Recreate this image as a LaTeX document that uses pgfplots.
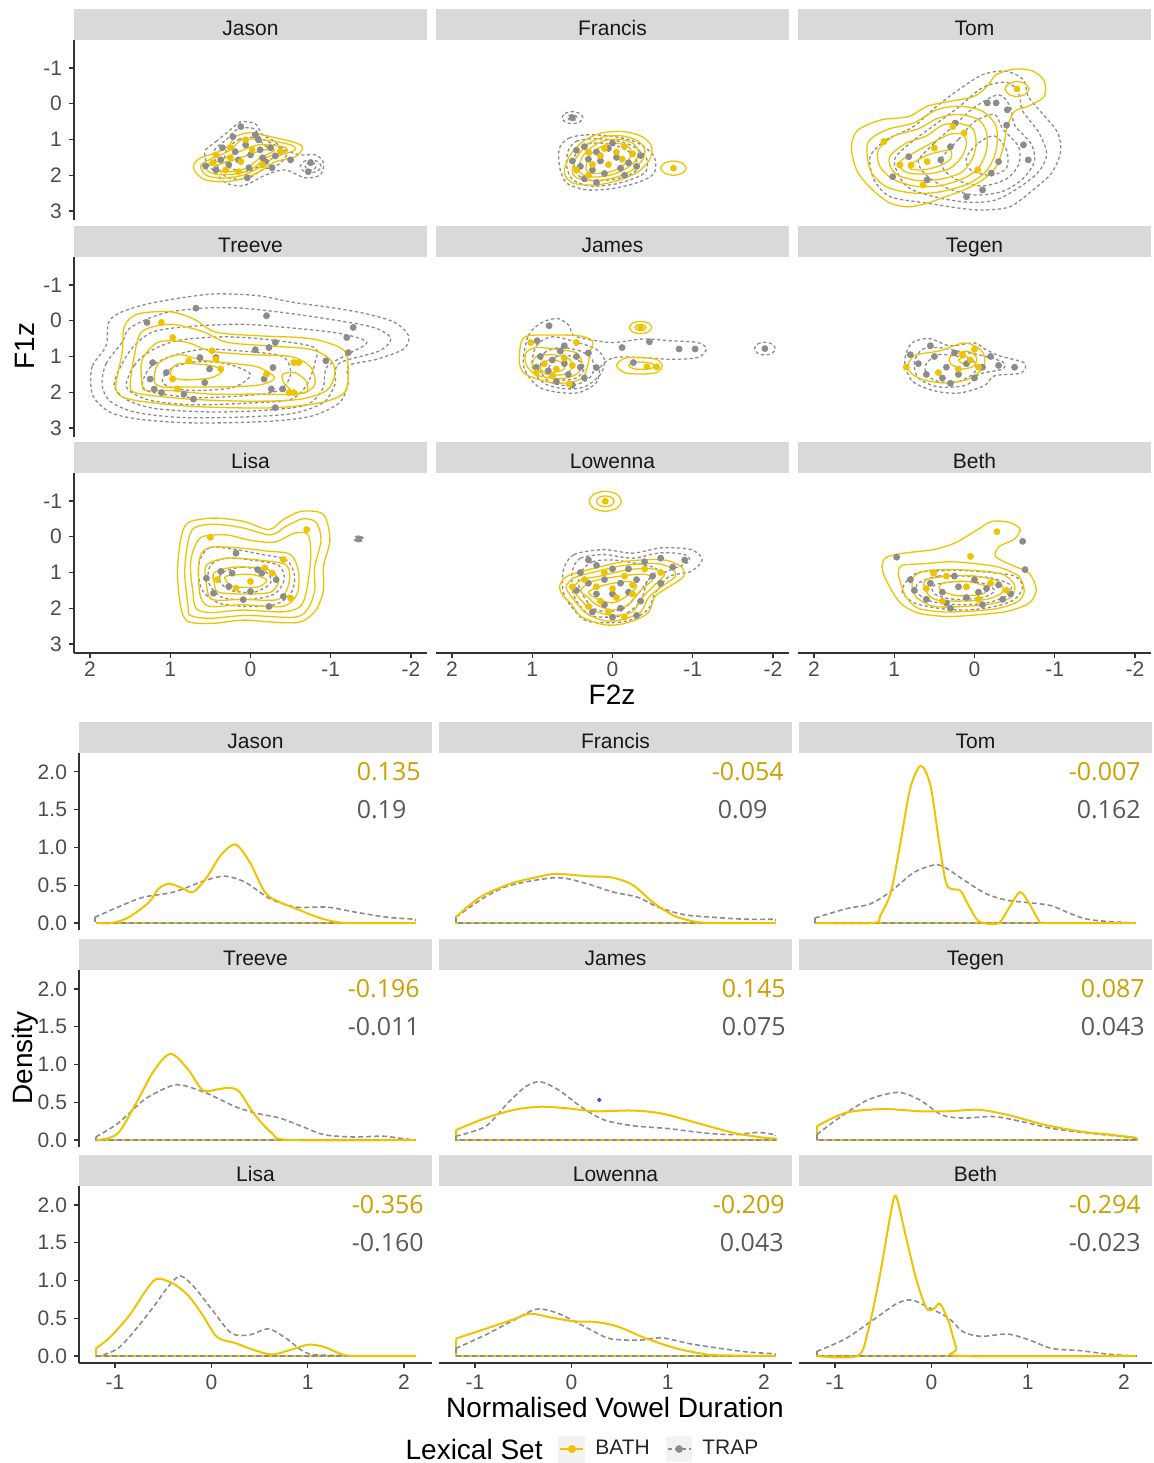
\documentclass[border=0pt]{standalone}
\usepackage{fontspec}
\setmainfont{Liberation Sans}
\newfontfamily\annfont{Open Sans}
\usepackage{pgfplots}
\pgfplotsset{compat=1.18}
\definecolor{bath}{RGB}{238,196,0}
\definecolor{trap}{RGB}{140,140,140}
\definecolor{goldtxt}{RGB}{204,160,0}
\definecolor{graytxt}{RGB}{89,89,89}
\definecolor{strip}{RGB}{217,217,217}
\definecolor{ticklab}{RGB}{77,77,77}
\definecolor{keybg}{RGB}{242,242,242}
\newcommand{\annfs}{\annfont\fontsize{12.5}{14}\selectfont}
\newcommand{\ann}[4]{\node[anchor=west,inner sep=0pt,text=goldtxt,font=\annfs] at (axis cs:#1,2.0) {#2};
 \node[anchor=west,inner sep=0pt,text=graytxt,font=\annfs] at (axis cs:#3,1.5) {#4};}
\pgfplotsset{
 yc/.style={bath, line width=0.65pt, smooth cycle, mark=none},
 gc/.style={trap, line width=0.65pt, dash pattern=on 1.6pt off 1.3pt, smooth cycle, mark=none},
 yp/.style={only marks, mark=*, mark size=1.5pt, draw=bath, fill=bath, mark options={draw=bath, fill=bath}},
 gp/.style={only marks, mark=*, mark size=1.5pt, draw=trap, fill=trap, mark options={draw=trap, fill=trap}},
 yd/.style={bath, line width=1pt, smooth, mark=none},
 gd/.style={trap, line width=0.8pt, dash pattern=on 2.5pt off 1.5pt, smooth, mark=none},
 yb/.style={bath, line width=1pt, sharp plot, mark=none},
 gb/.style={trap, line width=0.8pt, dash pattern=on 2.5pt off 1.5pt, sharp plot, mark=none},
 common/.style={scale only axis, width=176.5pt, tick align=outside, major tick length=2.5pt,
   axis line style={-, black!80, line width=0.6pt}, tick style={black!80, line width=0.6pt},
   tick label style={font=\fontsize{10.5}{12}\selectfont, text=ticklab},
   /pgf/number format/assume math mode=true,
   every axis title/.style={at={(0.5,1)}, anchor=south, fill=strip, minimum width=176.5pt, minimum height=15.5pt, inner sep=0pt, text height=11pt, text depth=0pt, font=\fontsize{10.5}{12}\selectfont, text=black!90}},
 topax/.style={common, height=90pt, x dir=reverse, y dir=reverse, xmin=-2.2, xmax=2.2, ymin=-1.78, ymax=3.25, xtick={-2,-1,0,1,2}, ytick={-1,0,1,2,3}, xticklabel style={yshift=1.5pt}},
 botax/.style={common, height=88.5pt, xmin=-1.374, xmax=2.29, ymin=-0.093, ymax=2.25, xtick={-1,0,1,2}, ytick={0,0.5,1,1.5,2},
   yticklabel style={/pgf/number format/.cd, fixed, fixed zerofill, precision=1}},
 lcol/.style={axis y line*=left},
 ncol/.style={hide y axis},
 brow/.style={axis x line*=bottom},
 nrow/.style={hide x axis},
}
\begin{document}
\begin{tikzpicture}
\useasboundingbox (0,0) rectangle (576.5pt,-731.5pt);
% ================= TOP GRID =================
% Jason
\begin{axis}[topax, lcol, nrow, at={(37pt,-20pt)}, anchor=north west, title={Jason}]
\addplot[gc] coordinates {(0.56,1.29) (0.43,1.06) (0.22,0.67) (0.12,0.5) (-0.06,0.56) (-0.15,0.87) (-0.27,1.01) (-0.43,1.29) (-0.62,1.43) (-0.81,1.43) (-0.91,1.65) (-0.87,1.99) (-0.68,2.07) (-0.43,1.85) (-0.19,1.99) (0,2.21) (0.12,2.3) (0.31,2.21) (0.47,1.85) (0.56,1.57)};
\addplot[gc] coordinates {(0.45,1.3) (0.3,1.0) (0.15,0.7) (-0.05,0.7) (-0.12,0.95) (-0.3,1.15) (-0.45,1.4) (-0.35,1.7) (-0.15,1.85) (0.05,2.1) (0.3,2.05) (0.42,1.7)};
\addplot[gc] coordinates {(0.3,1.3) (0.15,1.0) (-0.05,0.95) (-0.2,1.2) (-0.3,1.45) (-0.15,1.7) (0.05,1.9) (0.25,1.8) (0.32,1.55)};
\addplot[gc] coordinates {(-0.62,1.75) (-0.66,1.62) (-0.75,1.57) (-0.84,1.62) (-0.88,1.75) (-0.84,1.88) (-0.75,1.93) (-0.66,1.88)};
\addplot[gc] coordinates {(-0.68,1.75) (-0.7,1.68) (-0.75,1.65) (-0.8,1.68) (-0.82,1.75) (-0.8,1.82) (-0.75,1.85) (-0.7,1.82)};
\addplot[yc] coordinates {(0.71,1.71) (0.62,1.51) (0.43,1.37) (0.27,1.18) (0.19,0.92) (0,0.81) (-0.25,0.92) (-0.56,1.09) (-0.65,1.23) (-0.56,1.48) (-0.31,1.62) (-0.15,1.85) (0.06,2.07) (0.31,2.18) (0.56,2.13) (0.68,1.93)};
\addplot[yc] coordinates {(0.62,1.72) (0.45,1.5) (0.25,1.3) (0.1,1.0) (-0.2,1.02) (-0.5,1.15) (-0.55,1.3) (-0.3,1.5) (-0.1,1.8) (0.1,2.0) (0.35,2.08) (0.55,2.0)};
\addplot[yc] coordinates {(0.55,1.75) (0.35,1.55) (0.15,1.35) (-0.1,1.15) (-0.4,1.2) (-0.45,1.32) (-0.2,1.5) (-0.05,1.78) (0.15,1.95) (0.4,1.98) (0.52,1.9)};
\addplot[yc] coordinates {(0.45,1.75) (0.25,1.6) (0.05,1.45) (-0.15,1.3) (-0.3,1.3) (-0.1,1.55) (0.05,1.8) (0.25,1.9) (0.42,1.88)};
\addplot[gp] coordinates {(0.12,0.64) (-0.06,0.87) (0.22,0.92) (0.35,1.23) (0.06,1.15) (-0.12,1.29) (0,1.43) (0.15,1.57) (0.27,1.71) (0.43,1.85) (0.56,1.74) (-0.19,1.62) (-0.27,1.79) (0.04,2.07) (-0.1,1.01) (-0.5,1.57) (-0.75,1.65) (-0.72,1.9) (0.19,1.34) (-0.15,1.51) (0.02,1.79) (-0.31,1.46) (0.37,1.57) (-0.25,1.23)};
\addplot[yp] coordinates {(0.25,1.23) (0.12,1.62) (0.31,1.85) (0.47,1.65) (-0.02,1.29) (-0.15,1.71) (0.15,1.9) (0.43,1.43) (0.06,1.01) (-0.37,1.34) (0.25,1.51)};
\end{axis}
% Francis
\begin{axis}[topax, ncol, nrow, at={(218pt,-20pt)}, anchor=north west, title={Francis}]
\addplot[gc] coordinates {(0.66,1.24) (0.54,0.96) (0.31,0.87) (-0.03,0.92) (-0.32,1.1) (-0.52,1.48) (-0.52,1.94) (-0.34,2.18) (-0.03,2.36) (0.31,2.41) (0.57,2.22) (0.66,1.76)};
\addplot[gc] coordinates {(0.55,1.3) (0.45,1.05) (0.25,0.98) (-0.02,1.02) (-0.25,1.18) (-0.42,1.5) (-0.42,1.88) (-0.28,2.08) (-0.02,2.25) (0.28,2.3) (0.5,2.12) (0.57,1.75)};
\addplot[gc] coordinates {(0.45,1.35) (0.3,1.12) (0.05,1.12) (-0.18,1.3) (-0.3,1.6) (-0.28,1.9) (-0.05,2.1) (0.25,2.15) (0.43,2.0) (0.48,1.7)};
\addplot[gc] coordinates {(0.63,0.39) (0.59,0.27) (0.5,0.22) (0.41,0.27) (0.37,0.39) (0.41,0.51) (0.5,0.56) (0.59,0.51)};
\addplot[gc] coordinates {(0.56,0.39) (0.54,0.33) (0.5,0.31) (0.46,0.33) (0.44,0.39) (0.46,0.45) (0.5,0.47) (0.54,0.45)};
\addplot[yc] coordinates {(0.6,1.94) (0.54,1.48) (0.37,1.06) (0.14,0.82) (-0.14,0.78) (-0.37,0.92) (-0.49,1.2) (-0.46,1.57) (-0.32,1.9) (-0.09,2.13) (0.2,2.27) (0.49,2.22)};
\addplot[yc] coordinates {(0.5,1.9) (0.45,1.5) (0.3,1.12) (0.1,0.92) (-0.12,0.9) (-0.3,1.02) (-0.4,1.25) (-0.38,1.55) (-0.25,1.85) (-0.05,2.05) (0.2,2.15) (0.42,2.1)};
\addplot[yc] coordinates {(0.42,1.85) (0.38,1.5) (0.25,1.2) (0.08,1.02) (-0.1,1.0) (-0.25,1.1) (-0.32,1.3) (-0.3,1.55) (-0.18,1.8) (0,1.98) (0.2,2.05) (0.36,2.0)};
\addplot[yc] coordinates {(0.33,1.8) (0.3,1.5) (0.2,1.28) (0.05,1.12) (-0.1,1.12) (-0.22,1.25) (-0.22,1.5) (-0.12,1.75) (0.02,1.9) (0.2,1.95) (0.3,1.92)};
\addplot[yc] coordinates {(-0.6,1.8) (-0.65,1.66) (-0.76,1.6) (-0.87,1.66) (-0.92,1.8) (-0.87,1.94) (-0.76,2.0) (-0.65,1.94)};
\addplot[gp] coordinates {(0.5,0.39) (0.45,1.3) (0.35,1.2) (0.2,1.35) (0.05,1.25) (0.3,1.55) (0.15,1.6) (-0.05,1.5) (-0.2,1.65) (0.4,1.75) (0.25,1.85) (0.1,1.95) (-0.1,1.8) (0.35,2.1) (0.2,2.2) (-0.3,1.75) (-0.35,1.45) (0,1.1) (0.5,1.6) (-0.15,2.0)};
\addplot[yp] coordinates {(-0.76,1.8) (0.3,1.35) (0.15,1.45) (-0.05,1.35) (-0.15,1.2) (0.05,1.7) (0.25,1.7) (0.45,1.85) (-0.12,1.55) (0.3,2.0) (0.1,1.25) (-0.25,1.4)};
\end{axis}
% Tom
\begin{axis}[topax, ncol, nrow, at={(399pt,-20pt)}, anchor=north west, title={Tom}]
\addplot[gc] coordinates {(1.30,1.48) (1.10,1.01) (0.76,0.64) (0.47,0.07) (0.19,-0.4) (-0.10,-0.81) (-0.39,-0.91) (-0.61,-0.67) (-0.67,-0.2) (-0.84,0.26) (-1.04,0.82) (-1.07,1.38) (-0.96,1.94) (-0.73,2.41) (-0.44,2.88) (-0.10,2.97) (0.19,2.92) (0.59,2.78) (1.05,2.6) (1.25,2.13)};
\addplot[gc] coordinates {(1.0,1.6) (0.8,1.1) (0.5,0.6) (0.2,0.1) (-0.1,-0.45) (-0.4,-0.6) (-0.55,-0.3) (-0.6,0.2) (-0.8,0.8) (-0.9,1.4) (-0.8,1.9) (-0.55,2.35) (-0.25,2.7) (0.1,2.75) (0.5,2.6) (0.85,2.3)};
\addplot[gc] coordinates {(0.7,1.6) (0.5,1.1) (0.25,0.6) (0,0.1) (-0.3,-0.25) (-0.45,0.1) (-0.5,0.6) (-0.7,1.1) (-0.75,1.6) (-0.6,2.1) (-0.35,2.45) (0,2.55) (0.35,2.35) (0.6,2.0)};
\addplot[gc] coordinates {(0.4,1.5) (0.2,1.0) (0,0.5) (-0.25,0.3) (-0.35,0.7) (-0.55,1.2) (-0.55,1.7) (-0.4,2.1) (-0.1,2.3) (0.2,2.15) (0.38,1.85)};
\addplot[gc] coordinates {(0.1,1.5) (-0.05,1.1) (-0.25,0.9) (-0.4,1.3) (-0.4,1.8) (-0.2,2.0) (0.05,1.85)};
\addplot[yc] coordinates {(1.53,1.10) (1.45,0.73) (1.16,0.45) (0.82,0.36) (0.59,0.07) (0.30,-0.07) (0.01,-0.2) (-0.16,-0.49) (-0.27,-0.81) (-0.50,-0.97) (-0.73,-0.91) (-0.87,-0.63) (-0.87,-0.2) (-0.67,0.07) (-0.5,0.21) (-0.41,0.64) (-0.36,1.2) (-0.27,1.76) (-0.10,2.13) (0.13,2.41) (0.36,2.6) (0.59,2.78) (0.82,2.88) (1.05,2.78) (1.27,2.41) (1.45,1.94) (1.52,1.48)};
\addplot[yc] coordinates {(1.33,1.10) (1.10,0.73) (0.76,0.54) (0.47,0.17) (0.19,0.07) (-0.10,0.21) (-0.27,0.64) (-0.27,1.29) (-0.16,1.85) (0.07,2.23) (0.42,2.46) (0.76,2.5) (1.10,2.32) (1.30,1.85)};
\addplot[yc] coordinates {(1.2,1.3) (1.0,0.9) (0.7,0.7) (0.45,0.4) (0.2,0.3) (-0.05,0.45) (-0.15,0.8) (-0.15,1.3) (-0.05,1.8) (0.15,2.1) (0.45,2.3) (0.75,2.3) (1.02,2.1) (1.18,1.75)};
\addplot[yc] coordinates {(1.05,1.45) (0.85,1.1) (0.6,0.9) (0.4,0.6) (0.2,0.55) (0.02,0.7) (-0.02,1.1) (0.02,1.5) (0.15,1.9) (0.4,2.1) (0.7,2.15) (0.95,2.0) (1.05,1.75)};
\addplot[yc] coordinates {(0.92,1.6) (0.7,1.3) (0.45,1.0) (0.3,0.85) (0.15,0.85) (0.1,1.1) (0.15,1.45) (0.3,1.8) (0.55,1.95) (0.8,1.95) (0.92,1.8)};
\addplot[yc] coordinates {(0.8,1.7) (0.6,1.45) (0.45,1.35) (0.3,1.3) (0.3,1.55) (0.45,1.75) (0.65,1.85) (0.8,1.82)};
\addplot[yc] coordinates {(-0.38,-0.41) (-0.43,-0.56) (-0.53,-0.62) (-0.63,-0.56) (-0.68,-0.41) (-0.63,-0.26) (-0.53,-0.2) (-0.43,-0.26)};
\addplot[gp] coordinates {(-0.16,-0.02) (-0.27,-0.02) (-0.41,0.17) (0.24,0.54) (-0.61,1.15) (-0.30,1.62) (-0.21,1.94) (-0.67,1.57) (1.02,2.04) (0.59,2.13) (-0.10,2.41) (0.82,1.48) (0.42,1.57) (0.3,1.2) (-0.4,0.6) (0.1,2.6)};
\addplot[yp] coordinates {(-0.53,-0.41) (1.13,1.06) (0.13,0.82) (0.5,1.24) (0.79,1.71) (0.59,1.62) (0.93,1.71) (-0.04,1.85) (0.64,2.27) (0.27,0.64)};
\end{axis}
% Treeve
\begin{axis}[topax, lcol, nrow, at={(37pt,-128.5pt)}, anchor=north west, title={Treeve}]
\addplot[gc] coordinates {(1.99,1.82) (1.97,1.26) (1.80,0.70) (1.77,0.05) (1.62,-0.23) (1.28,-0.47) (0.83,-0.65) (0.43,-0.75) (-0.09,-0.70) (-0.54,-0.51) (-1.0,-0.37) (-1.45,-0.19) (-1.80,0.05) (-1.97,0.42) (-1.91,0.79) (-1.57,1.08) (-1.22,1.26) (-1.22,1.73) (-1.11,2.29) (-0.77,2.66) (-0.31,2.80) (0.26,2.85) (0.83,2.85) (1.40,2.75) (1.74,2.57) (1.94,2.19)};
\addplot[gc] coordinates {(1.85,1.8) (1.8,1.2) (1.6,0.6) (1.5,0.2) (1.1,-0.2) (0.6,-0.35) (0.1,-0.35) (-0.5,-0.2) (-1.1,0.0) (-1.55,0.2) (-1.75,0.5) (-1.6,0.85) (-1.1,1.2) (-1.05,1.8) (-0.9,2.3) (-0.5,2.6) (0.2,2.7) (0.9,2.7) (1.45,2.55) (1.75,2.25)};
\addplot[gc] coordinates {(1.7,1.8) (1.6,1.2) (1.45,0.7) (1.2,0.3) (0.7,0.15) (0.1,0.1) (-0.5,0.2) (-1.1,0.35) (-1.45,0.6) (-1.2,0.95) (-0.95,1.3) (-0.9,1.9) (-0.7,2.35) (-0.2,2.5) (0.5,2.55) (1.2,2.45) (1.55,2.2)};
\addplot[gc] coordinates {(1.55,1.8) (1.45,1.25) (1.25,0.85) (0.9,0.55) (0.3,0.45) (-0.3,0.55) (-0.8,0.75) (-0.8,1.2) (-0.7,1.8) (-0.5,2.2) (0,2.3) (0.7,2.35) (1.2,2.25) (1.45,2.05)};
\addplot[gc] coordinates {(1.35,1.75) (1.25,1.3) (1.0,1.0) (0.6,0.8) (0.1,0.85) (-0.4,1.0) (-0.5,1.5) (-0.35,1.95) (0.1,2.1) (0.7,2.15) (1.1,2.05) (1.3,1.95)};
\addplot[gc] coordinates {(1.1,1.7) (1.0,1.35) (0.7,1.15) (0.3,1.2) (0,1.5) (0.2,1.85) (0.6,1.95) (0.95,1.9)};
\addplot[yc] coordinates {(1.68,1.82) (1.60,0.89) (1.57,0.14) (1.40,-0.19) (1.0,-0.25) (0.71,-0.05) (0.43,0.32) (-0.09,0.42) (-0.60,0.47) (-0.88,0.56) (-1.17,0.84) (-1.22,1.45) (-1.17,2.01) (-0.88,2.29) (-0.31,2.43) (0.26,2.43) (0.83,2.38) (1.40,2.24) (1.62,2.10)};
\addplot[yc] coordinates {(1.5,1.8) (1.45,1.0) (1.35,0.3) (1.0,0.1) (0.6,0.3) (0.3,0.6) (-0.2,0.7) (-0.75,0.8) (-1.0,1.1) (-1.05,1.5) (-0.95,1.95) (-0.6,2.2) (0,2.25) (0.7,2.2) (1.2,2.1) (1.45,2.0)};
\addplot[yc] coordinates {(1.35,1.8) (1.35,1.1) (1.15,0.6) (0.8,0.6) (0.5,0.85) (0,0.95) (-0.5,1.0) (-0.75,1.3) (-0.8,1.8) (-0.6,2.05) (-0.1,2.05) (0.5,2.05) (1.0,1.95) (1.3,1.95)};
\addplot[yc] coordinates {(1.2,1.7) (1.15,1.2) (0.9,0.95) (0.6,1.1) (0.2,1.2) (-0.1,1.3) (-0.3,1.6) (-0.1,1.8) (0.4,1.85) (0.9,1.85) (1.1,1.85)};
\addplot[yc] coordinates {(1.0,1.5) (0.9,1.2) (0.5,1.25) (0.35,1.4) (0.5,1.6) (0.85,1.65)};
\addplot[yc] coordinates {(-0.4,1.5) (-0.55,1.45) (-0.7,1.7) (-0.7,2.0) (-0.55,2.0) (-0.42,1.75)};
\addplot[gp] coordinates {(0.68,-0.35) (1.29,0.05) (-0.2,-0.14) (-1.28,0.19) (-1.2,0.47) (-1.22,0.89) (-0.94,1.12) (-0.31,0.61) (-0.06,0.81) (-0.23,0.75) (0.43,1.03) (0.63,1.03) (0.51,1.35) (1.22,1.17) (1.05,1.45) (1.25,1.63) (1.2,1.91) (0.83,2.05) (0.57,1.73) (-0.28,1.31) (-0.17,1.63) (-0.26,1.91) (-0.4,1.91) (-0.31,2.43) (1.11,2.01) (0.71,2.19)};
\addplot[yp] coordinates {(1.11,0.05) (0.97,0.47) (0.48,0.84) (0.77,1.12) (0.37,1.35) (0.97,1.63) (0.91,1.91) (-0.54,1.17) (-0.6,1.17) (-0.48,2.01) (-0.54,2.01) (-0.2,1.49) (0.43,1.08)};
\end{axis}
% James
\begin{axis}[topax, ncol, nrow, at={(218pt,-128.5pt)}, anchor=north west, title={James}]
\addplot[gc] coordinates {(1.11,1.26) (1.05,0.42) (0.88,0.05) (0.68,-0.06) (0.54,0.14) (0.48,0.42) (0.2,0.56) (-0.03,0.61) (-0.38,0.51) (-0.72,0.56) (-1.06,0.61) (-1.17,0.79) (-1.06,1.03) (-0.72,1.08) (-0.38,1.03) (-0.03,1.03) (0.14,1.26) (0.2,1.73) (0.42,2.01) (0.71,1.99) (0.94,1.82)};
\addplot[gc] coordinates {(1.0,1.3) (0.95,0.7) (0.75,0.45) (0.45,0.6) (0.2,0.8) (0.1,1.1) (0.15,1.5) (0.35,1.85) (0.6,1.9) (0.85,1.75)};
\addplot[gc] coordinates {(0.9,1.35) (0.85,0.9) (0.65,0.75) (0.4,0.85) (0.25,1.1) (0.25,1.5) (0.4,1.75) (0.65,1.8) (0.82,1.65)};
\addplot[gc] coordinates {(0.8,1.4) (0.7,1.0) (0.5,1.0) (0.35,1.3) (0.45,1.6) (0.65,1.65)};
\addplot[gc] coordinates {(-1.77,0.78) (-1.81,0.65) (-1.9,0.6) (-1.99,0.65) (-2.03,0.78) (-1.99,0.91) (-1.9,0.96) (-1.81,0.91)};
\addplot[yc] coordinates {(1.16,1.17) (1.14,0.61) (1.05,0.42) (0.76,0.40) (0.42,0.42) (0.25,0.56) (0.28,0.89) (0.31,1.26) (0.37,1.59) (0.54,1.73) (0.76,1.73) (0.99,1.59) (1.11,1.45)};
\addplot[yc] coordinates {(1.08,1.2) (1.08,0.9) (0.95,0.75) (0.7,0.8) (0.45,0.9) (0.38,1.2) (0.45,1.5) (0.65,1.62) (0.9,1.55) (1.02,1.4)};
\addplot[yc] coordinates {(1.0,1.25) (0.95,1.0) (0.75,0.95) (0.55,1.05) (0.5,1.3) (0.6,1.5) (0.8,1.5) (0.95,1.4)};
\addplot[yc] coordinates {(0.9,1.3) (0.8,1.1) (0.65,1.15) (0.6,1.35) (0.75,1.45) (0.88,1.4)};
\addplot[yc] coordinates {(-0.21,0.19) (-0.25,0.07) (-0.35,0.02) (-0.45,0.07) (-0.49,0.19) (-0.45,0.31) (-0.35,0.36) (-0.25,0.31)};
\addplot[yc] coordinates {(-0.28,0.19) (-0.3,0.13) (-0.35,0.1) (-0.4,0.13) (-0.42,0.19) (-0.4,0.25) (-0.35,0.28) (-0.3,0.25)};
\addplot[yc] coordinates {(-0.05,1.25) (-0.15,1.05) (-0.35,1.03) (-0.55,1.08) (-0.62,1.26) (-0.55,1.45) (-0.35,1.49) (-0.15,1.45)};
\addplot[yc] coordinates {(-0.2,1.25) (-0.3,1.15) (-0.5,1.2) (-0.5,1.32) (-0.3,1.36)};
\addplot[gp] coordinates {(0.79,0.14) (0.94,0.56) (-0.12,0.75) (-0.46,0.59) (-0.83,0.79) (-1.03,0.79) (-0.26,1.17) (0.2,1.31) (0.9,1.0) (0.75,1.1) (0.6,1.2) (0.45,1.0) (0.8,1.4) (0.55,1.5) (0.4,1.3) (0.65,0.85) (0.3,0.9) (0.7,1.7) (0.5,1.8) (0.95,1.3) (0.35,1.6) (-1.9,0.78) (0.6,0.7)};
\addplot[yp] coordinates {(-0.35,0.19) (1.02,0.61) (0.45,0.61) (-0.55,1.29) (-0.43,1.29) (0.54,1.77) (0.85,1.2) (0.7,1.35) (0.6,1.05) (0.95,1.45) (0.5,1.25) (0.75,1.55)};
\end{axis}
% Tegen
\begin{axis}[topax, ncol, nrow, at={(399pt,-128.5pt)}, anchor=north west, title={Tegen}]
\addplot[gc] coordinates {(0.87,1.12) (0.78,0.62) (0.56,0.5) (0.31,0.7) (0,0.62) (-0.12,0.78) (-0.31,0.98) (-0.62,1.18) (-0.58,1.46) (-0.25,1.54) (-0.12,1.82) (0.19,2.02) (0.5,1.96) (0.78,1.68)};
\addplot[gc] coordinates {(0.75,1.15) (0.65,0.8) (0.45,0.75) (0.2,0.85) (-0.05,0.95) (-0.35,1.15) (-0.35,1.35) (-0.05,1.5) (0.1,1.8) (0.45,1.85) (0.7,1.6)};
\addplot[gc] coordinates {(0.6,1.2) (0.45,0.95) (0.2,1.0) (0,1.15) (0,1.45) (0.2,1.7) (0.45,1.7) (0.6,1.5)};
\addplot[yc] coordinates {(0.83,1.34) (0.75,0.98) (0.43,0.84) (0.12,0.62) (-0.09,0.84) (-0.12,1.26) (0.06,1.62) (0.37,1.74) (0.68,1.62)};
\addplot[yc] coordinates {(0.3,1.0) (0.1,0.85) (-0.02,1.0) (0.0,1.25) (0.15,1.35) (0.3,1.2)};
\addplot[yc] coordinates {(0.2,1.1) (0.1,1.0) (0.05,1.12) (0.12,1.22)};
\addplot[gp] coordinates {(0.7,1.2) (0.5,1.0) (0.35,1.3) (0.2,1.5) (0.4,1.6) (0.1,1.2) (-0.1,1.3) (0.6,1.5) (0.25,0.9) (-0.3,1.25) (-0.5,1.3) (0.55,0.7) (0.3,1.75) (0.0,1.6) (0.8,0.95) (-0.2,1.0)};
\addplot[yp] coordinates {(0.85,1.3) (0.15,0.95) (0.05,1.1) (-0.05,1.3) (0.45,1.45) (0.2,1.35) (0.0,0.8)};
\end{axis}
% Lisa
\begin{axis}[topax, lcol, brow, at={(37pt,-236.5pt)}, anchor=north west, title={Lisa}]
\addplot[gc] coordinates {(0.62,0.6) (0.5,0.3) (0.2,0.35) (-0.15,0.5) (-0.45,0.65) (-0.55,1.1) (-0.5,1.6) (-0.3,1.9) (0.05,1.95) (0.4,1.85) (0.6,1.5) (0.65,1.0)};
\addplot[gc] coordinates {(0.5,0.8) (0.3,0.6) (0,0.65) (-0.35,0.8) (-0.42,1.2) (-0.3,1.6) (0,1.75) (0.35,1.7) (0.52,1.3)};
\addplot[gc] coordinates {(0.35,1.0) (0.1,0.85) (-0.2,1.0) (-0.25,1.3) (-0.05,1.55) (0.25,1.5) (0.38,1.25)};
\addplot[gc] coordinates {(-1.29,0.06) (-1.31,0.0) (-1.35,-0.02) (-1.39,0.0) (-1.41,0.06) (-1.39,0.12) (-1.35,0.14) (-1.31,0.12)};
\addplot[yc] coordinates {(0.87,0.08) (0.78,-0.39) (0.46,-0.52) (0.09,-0.43) (-0.23,-0.20) (-0.41,-0.48) (-0.64,-0.71) (-0.91,-0.62) (-0.99,0.08) (-0.91,0.83) (-0.91,1.48) (-0.82,2.04) (-0.64,2.37) (-0.37,2.40) (0.09,2.33) (0.46,2.42) (0.78,2.37) (0.87,1.95) (0.91,1.02)};
\addplot[yc] coordinates {(0.78,0.15) (0.7,-0.25) (0.45,-0.35) (0.1,-0.25) (-0.25,-0.05) (-0.45,-0.3) (-0.65,-0.5) (-0.82,-0.4) (-0.88,0.1) (-0.8,0.85) (-0.8,1.5) (-0.72,2.0) (-0.55,2.25) (0.05,2.2) (0.5,2.28) (0.75,2.2) (0.78,1.9) (0.82,1.0)};
\addplot[yc] coordinates {(0.7,0.3) (0.6,0.0) (0.3,-0.05) (0,0.1) (-0.3,0.15) (-0.55,-0.1) (-0.72,-0.05) (-0.75,0.6) (-0.7,1.5) (-0.62,1.95) (-0.4,2.1) (0.1,2.05) (0.5,2.12) (0.68,2.0) (0.72,1.5) (0.75,0.8)};
\addplot[yc] coordinates {(0.62,0.5) (0.5,0.3) (0.2,0.3) (-0.2,0.4) (-0.5,0.5) (-0.6,1.0) (-0.58,1.6) (-0.4,1.95) (0.1,1.9) (0.5,1.95) (0.62,1.7) (0.65,1.0)};
\addplot[yc] coordinates {(0.55,0.8) (0.3,0.6) (-0.1,0.65) (-0.45,0.8) (-0.48,1.3) (-0.35,1.75) (0.1,1.75) (0.48,1.75) (0.55,1.3)};
\addplot[yc] coordinates {(0.45,1.0) (0.2,0.85) (-0.2,0.9) (-0.35,1.2) (-0.25,1.55) (0.1,1.6) (0.4,1.55) (0.45,1.3)};
\addplot[yc] coordinates {(0.3,1.1) (0,1.05) (-0.2,1.2) (-0.1,1.4) (0.2,1.4) (0.3,1.25)};
\addplot[gp] coordinates {(0.55,1.16) (0.37,0.97) (0.23,1.02) (0.27,1.39) (0,1.53) (0.09,1.76) (-0.14,1.02) (-0.32,1.2) (-0.23,1.95) (-0.09,0.92) (0.18,0.46) (0.46,1.58) (-0.41,1.67) (-1.35,0.06)};
\addplot[yp] coordinates {(-0.7,-0.2) (0.5,0.02) (0.41,1.2) (-0.41,0.64) (-0.18,0.87) (-0.27,1.02) (-0.5,1.72) (0,1.25) (0.18,1.44)};
\end{axis}
% Lowenna
\begin{axis}[topax, ncol, brow, at={(218pt,-236.5pt)}, anchor=north west, title={Lowenna}]
\addplot[gc] coordinates {(0.61,0.92) (0.48,0.5) (0.11,0.36) (-0.25,0.46) (-0.62,0.31) (-0.98,0.36) (-1.12,0.64) (-0.98,0.97) (-0.71,1.11) (-0.53,1.58) (-0.44,2.04) (-0.16,2.37) (0.3,2.37) (0.48,2.04) (0.61,1.58)};
\addplot[gc] coordinates {(0.5,0.95) (0.4,0.6) (0.1,0.5) (-0.25,0.6) (-0.6,0.45) (-0.9,0.5) (-0.95,0.7) (-0.7,0.95) (-0.45,1.2) (-0.35,1.8) (-0.12,2.2) (0.25,2.22) (0.42,1.9) (0.5,1.5)};
\addplot[gc] coordinates {(0.4,1.0) (0.25,0.7) (0,0.65) (-0.3,0.75) (-0.55,0.9) (-0.45,1.2) (-0.28,1.7) (-0.1,2.05) (0.2,2.05) (0.35,1.7) (0.42,1.35)};
\addplot[yc] coordinates {(0.66,1.39) (0.57,1.11) (0.3,0.92) (-0.16,0.69) (-0.62,0.64) (-0.85,0.83) (-0.89,1.11) (-0.71,1.39) (-0.53,1.67) (-0.44,2.14) (-0.16,2.42) (0.11,2.46) (0.39,2.23) (0.52,1.86) (0.61,1.67)};
\addplot[yc] coordinates {(0.58,1.4) (0.48,1.15) (0.25,1.0) (-0.15,0.8) (-0.55,0.75) (-0.75,0.9) (-0.78,1.12) (-0.62,1.38) (-0.45,1.7) (-0.35,2.1) (-0.12,2.32) (0.1,2.35) (0.32,2.15) (0.45,1.85) (0.52,1.65)};
\addplot[yc] coordinates {(0.5,1.45) (0.38,1.2) (0.15,1.1) (-0.2,0.92) (-0.5,0.9) (-0.65,1.05) (-0.5,1.4) (-0.35,1.75) (-0.25,2.1) (0,2.2) (0.25,2.05) (0.38,1.8) (0.45,1.62)};
\addplot[yc] coordinates {(0.4,1.5) (0.25,1.25) (-0.1,1.1) (-0.4,1.05) (-0.5,1.2) (-0.35,1.5) (-0.2,1.9) (0,2.05) (0.2,1.9) (0.3,1.7)};
\addplot[yc] coordinates {(0.3,1.55) (0.1,1.35) (-0.2,1.25) (-0.3,1.4) (-0.15,1.7) (0,1.85) (0.18,1.75)};
\addplot[yc] coordinates {(0.29,-0.99) (0.23,-1.19) (0.09,-1.27) (-0.05,-1.19) (-0.11,-0.99) (-0.05,-0.79) (0.09,-0.71) (0.23,-0.79)};
\addplot[yc] coordinates {(0.2,-0.99) (0.17,-1.1) (0.09,-1.14) (0.01,-1.1) (-0.02,-0.99) (0.01,-0.88) (0.09,-0.84) (0.17,-0.88)};
\addplot[gp] coordinates {(0.4,1.0) (0.2,0.8) (0,0.9) (-0.2,0.9) (-0.4,0.7) (-0.6,0.6) (-0.9,0.65) (-0.75,0.85) (0.3,1.3) (0.1,1.2) (-0.1,1.3) (-0.3,1.2) (-0.5,1.1) (0.2,1.6) (0,1.6) (-0.2,1.55) (-0.35,1.8) (0.1,1.9) (-0.1,2.0) (0.25,2.1) (0,2.25) (0.45,1.5) (-0.6,1.3) (0.3,0.65) (-0.3,2.2)};
\addplot[yp] coordinates {(0.09,-0.99) (0.5,1.4) (0.35,1.2) (0.1,1.0) (-0.15,1.1) (-0.4,0.9) (-0.6,1.0) (0.2,1.4) (0,1.45) (-0.25,1.35) (0.15,1.8) (-0.05,1.7) (-0.25,1.6) (0.05,2.1) (-0.15,2.25) (0.3,1.95)};
\end{axis}
% Beth
\begin{axis}[topax, ncol, brow, at={(399pt,-236.5pt)}, anchor=north west, title={Beth}]
\addplot[gc] coordinates {(0.85,1.25) (0.7,1.0) (0.4,0.95) (0.1,0.95) (-0.2,1.0) (-0.5,1.1) (-0.6,1.4) (-0.5,1.75) (-0.25,1.95) (0.1,2.05) (0.45,2.0) (0.75,1.85) (0.9,1.55)};
\addplot[gc] coordinates {(0.7,1.3) (0.45,1.1) (0.1,1.1) (-0.2,1.15) (-0.45,1.35) (-0.4,1.65) (-0.15,1.85) (0.2,1.9) (0.55,1.8) (0.72,1.55)};
\addplot[gc] coordinates {(0.5,1.35) (0.2,1.25) (-0.1,1.3) (-0.25,1.5) (-0.1,1.7) (0.25,1.75) (0.5,1.6)};
\addplot[yc] coordinates {(1.15,0.92) (1.11,0.59) (0.88,0.46) (0.51,0.36) (0.24,0.17) (-0.04,-0.2) (-0.22,-0.43) (-0.45,-0.39) (-0.57,-0.2) (-0.49,0.08) (-0.31,0.27) (-0.26,0.55) (-0.45,0.78) (-0.68,1.02) (-0.77,1.48) (-0.68,1.86) (-0.40,2.09) (-0.04,2.18) (0.33,2.23) (0.69,2.14) (0.92,1.86) (1.06,1.39)};
\addplot[yc] coordinates {(0.95,1.0) (0.9,0.8) (0.6,0.75) (0.3,0.7) (0,0.75) (-0.3,0.85) (-0.55,1.1) (-0.62,1.5) (-0.55,1.8) (-0.3,2.0) (0.05,2.08) (0.4,2.1) (0.7,2.0) (0.85,1.7) (0.92,1.3)};
\addplot[yc] coordinates {(0.75,1.1) (0.6,0.95) (0.3,0.92) (-0.05,0.95) (-0.35,1.05) (-0.5,1.35) (-0.45,1.7) (-0.2,1.88) (0.15,1.95) (0.5,1.95) (0.72,1.7) (0.78,1.35)};
\addplot[yc] coordinates {(0.6,1.2) (0.3,1.1) (0,1.1) (-0.3,1.25) (-0.35,1.55) (-0.15,1.75) (0.2,1.8) (0.5,1.75) (0.62,1.45)};
\addplot[yc] coordinates {(0.4,1.3) (0.1,1.25) (-0.15,1.4) (-0.1,1.6) (0.2,1.65) (0.42,1.5)};
\addplot[gp] coordinates {(0.97,0.57) (-0.6,0.13) (-0.63,0.92) (0.75,1.5) (0.55,1.3) (0.4,1.55) (0.2,1.4) (0,1.2) (-0.15,1.45) (-0.3,1.35) (-0.45,1.6) (0.6,1.75) (0.35,1.85) (0.1,1.7) (-0.1,1.9) (-0.35,1.75) (0.25,1.1) (-0.05,1.55) (0.8,1.2) (0.3,2.0)};
\addplot[yp] coordinates {(-0.28,-0.14) (0.05,0.55) (0.51,1.02) (0.35,1.1) (0.1,1.4) (-0.2,1.3) (0.4,1.8) (-0.05,1.75) (0.6,1.45) (-0.4,1.5)};
\end{axis}
% ================= BOTTOM GRID =================
% Jason
\begin{axis}[botax, lcol, nrow, at={(39.5pt,-376.5pt)}, anchor=north west, title={Jason}]
\addplot[yb] coordinates {(-1.2,0) (2.12,0)};
\addplot[gb] coordinates {(-1.21,0.075) (-1.21,0) (2.12,0) (2.12,0.05)};
\addplot[gd] coordinates {(-1.21,0.075) (-0.97,0.21) (-0.71,0.34) (-0.39,0.41) (-0.07,0.56) (0.14,0.62) (0.35,0.54) (0.61,0.32) (0.88,0.21) (1.2,0.21) (1.51,0.14) (1.83,0.075) (2.12,0.05)};
\addplot[yd] coordinates {(-1.2,0) (-1.03,0.0) (-0.86,0.075) (-0.65,0.27) (-0.55,0.45) (-0.44,0.52) (-0.3,0.46) (-0.19,0.41) (-0.05,0.6) (0.1,0.9) (0.25,1.04) (0.4,0.8) (0.56,0.4) (0.72,0.27) (0.88,0.19) (1.05,0.1) (1.2,0.04) (1.41,0) (2.12,0)};
\ann{1.505}{0.135}{1.505}{0.19}
\end{axis}
% Francis
\begin{axis}[botax, ncol, nrow, at={(219.5pt,-376.5pt)}, anchor=north west, title={Francis}]
\addplot[yb] coordinates {(-1.2,0.075) (-1.2,0) (2.12,0)};
\addplot[gb] coordinates {(-1.2,0.075) (-1.2,0) (2.12,0) (2.12,0.05)};
\addplot[gd] coordinates {(-1.2,0.075) (-0.9,0.34) (-0.63,0.5) (-0.15,0.6) (0.16,0.52) (0.43,0.41) (0.69,0.34) (0.9,0.21) (1.17,0.11) (1.48,0.075) (1.8,0.05) (2.12,0.05)};
\addplot[yd] coordinates {(-1.2,0.075) (-0.95,0.34) (-0.63,0.52) (-0.31,0.62) (-0.15,0.65) (0.16,0.62) (0.43,0.6) (0.64,0.5) (0.85,0.27) (1.06,0.1) (1.27,0.02) (1.48,0) (2.12,0)};
\ann{1.453}{-0.054}{1.516}{0.09}
\end{axis}
% Tom
\begin{axis}[botax, ncol, nrow, at={(399.5pt,-376.5pt)}, anchor=north west, title={Tom}]
\addplot[yb] coordinates {(-1.2,0) (2.12,0)};
\addplot[gb] coordinates {(-1.21,0.066) (-1.21,0) (2.12,0)};
\addplot[gd] coordinates {(-1.21,0.066) (-0.88,0.19) (-0.64,0.25) (-0.43,0.41) (-0.18,0.67) (0.04,0.77) (0.16,0.72) (0.37,0.54) (0.58,0.38) (0.79,0.3) (1.0,0.27) (1.24,0.23) (1.45,0.12) (1.62,0.05) (1.83,0.02) (2.12,0)};
\addplot[yd] coordinates {(-1.2,0) (-0.6,0) (-0.53,0.1) (-0.42,0.41) (-0.32,1.07) (-0.22,1.78) (-0.11,2.08) (-0.01,1.82) (0.08,1.07) (0.15,0.54) (0.21,0.45) (0.30,0.43) (0.37,0.27) (0.47,0.05) (0.54,0) (0.70,0) (0.82,0.23) (0.92,0.41) (1.01,0.27) (1.11,0.05) (1.2,0) (2.12,0)};
\ann{1.422}{-0.007}{1.505}{0.162}
\end{axis}
% Treeve
\begin{axis}[botax, lcol, nrow, at={(39.5pt,-485pt)}, anchor=north west, title={Treeve}]
\addplot[yb] coordinates {(-1.2,0) (2.12,0)};
\addplot[gb] coordinates {(-1.2,0.04) (-1.2,0) (2.12,0)};
\addplot[gd] coordinates {(-1.2,0.04) (-0.97,0.22) (-0.7,0.53) (-0.47,0.69) (-0.32,0.73) (-0.05,0.62) (0.25,0.44) (0.48,0.35) (0.71,0.29) (0.94,0.18) (1.17,0.07) (1.47,0.04) (1.78,0.05) (1.97,0.02) (2.12,0)};
\addplot[yd] coordinates {(-1.2,0) (-1.16,0) (-0.97,0.09) (-0.78,0.49) (-0.59,0.93) (-0.42,1.14) (-0.24,0.93) (-0.09,0.66) (0.06,0.67) (0.18,0.69) (0.29,0.64) (0.44,0.35) (0.63,0.09) (0.82,0) (2.12,0)};
\ann{1.412}{-0.196}{1.412}{-0.011}
\end{axis}
% James
\begin{axis}[botax, ncol, nrow, at={(219.5pt,-485pt)}, anchor=north west, title={James}]
\addplot[yb] coordinates {(-1.2,0.13) (-1.2,0) (2.12,0) (2.12,0.02)};
\addplot[gb] coordinates {(-1.2,0.05) (-1.2,0) (2.12,0) (2.12,0.07)};
\addplot[gd] coordinates {(-1.2,0.05) (-0.89,0.18) (-0.66,0.49) (-0.47,0.71) (-0.32,0.77) (-0.13,0.66) (0.1,0.44) (0.33,0.27) (0.63,0.19) (1.01,0.15) (1.4,0.09) (1.7,0.07) (1.93,0.1) (2.12,0.07)};
\addplot[yd] coordinates {(-1.2,0.13) (-0.89,0.29) (-0.59,0.4) (-0.32,0.44) (-0.05,0.42) (0.25,0.38) (0.63,0.39) (0.94,0.35) (1.32,0.22) (1.7,0.09) (2.0,0.03) (2.12,0.02)};
\addplot[only marks, mark=*, mark size=0.9pt, blue!75, mark options={fill=blue!75}] coordinates {(0.29,0.53)};
\ann{1.557}{0.145}{1.557}{0.075}
\end{axis}
% Tegen
\begin{axis}[botax, ncol, nrow, at={(399.5pt,-485pt)}, anchor=north west, title={Tegen}]
\addplot[yb] coordinates {(-1.19,0.18) (-1.19,0) (2.13,0) (2.13,0.03)};
\addplot[gb] coordinates {(-1.19,0.07) (-1.19,0) (2.13,0) (2.13,0.02)};
\addplot[gd] coordinates {(-1.19,0.07) (-0.95,0.3) (-0.66,0.53) (-0.35,0.63) (-0.12,0.53) (0.11,0.33) (0.34,0.29) (0.65,0.31) (0.95,0.24) (1.26,0.15) (1.64,0.09) (1.94,0.05) (2.13,0.02)};
\addplot[yd] coordinates {(-1.19,0.18) (-0.89,0.36) (-0.5,0.41) (-0.12,0.38) (0.18,0.38) (0.49,0.4) (0.8,0.33) (1.18,0.2) (1.56,0.11) (1.86,0.07) (2.13,0.03)};
\ann{1.547}{0.087}{1.547}{0.043}
\end{axis}
% Lisa
\begin{axis}[botax, lcol, brow, at={(39.5pt,-593pt)}, anchor=north west, title={Lisa}]
\addplot[yb] coordinates {(-1.2,0.1) (-1.2,0) (2.12,0)};
\addplot[gb] coordinates {(-1.2,0) (2.12,0)};
\addplot[gd] coordinates {(-1.2,0) (-1.16,0) (-0.97,0.1) (-0.78,0.36) (-0.59,0.67) (-0.44,0.93) (-0.32,1.06) (-0.17,0.9) (0.02,0.59) (0.21,0.3) (0.4,0.28) (0.59,0.36) (0.78,0.23) (0.97,0.05) (1.17,0.01) (2.12,0)};
\addplot[yd] coordinates {(-1.2,0.1) (-1.05,0.25) (-0.85,0.54) (-0.7,0.83) (-0.57,1.02) (-0.4,0.96) (-0.24,0.8) (-0.09,0.54) (0.06,0.25) (0.25,0.17) (0.44,0.08) (0.63,0.02) (0.82,0.08) (1.01,0.15) (1.17,0.12) (1.32,0.04) (1.47,0) (2.12,0)};
\ann{1.453}{-0.356}{1.453}{-0.160}
\end{axis}
% Lowenna
\begin{axis}[botax, ncol, brow, at={(219.5pt,-593pt)}, anchor=north west, title={Lowenna},
  legend columns=2, legend cell align=left,
  legend style={at={(axis description cs:0.32,-0.486)}, anchor=west, draw=none, fill=none, font=\fontsize{10.5}{12}\selectfont, text=black!85,
    /tikz/every even column/.append style={column sep=6pt}, /tikz/every odd column/.append style={column sep=3pt}},
  legend image code/.code={\fill[keybg] (0pt,-6.25pt) rectangle (12.5pt,6.25pt);
    \draw[mark repeat=2,mark phase=2,#1] plot coordinates {(0.5pt,0pt) (6.25pt,0pt) (12pt,0pt)};}]
\addlegendimage{bath, line width=1pt, mark=*, mark size=1.5pt, mark options={solid, fill=bath}}
\addlegendentry{BATH}
\addlegendimage{trap, line width=0.8pt, dash pattern=on 2pt off 1.5pt, mark=*, mark size=1.5pt, mark options={solid, fill=trap}}
\addlegendentry{TRAP}
\addplot[yb, forget plot] coordinates {(-1.2,0.23) (-1.2,0) (2.12,0)};
\addplot[gb, forget plot] coordinates {(-1.2,0.1) (-1.2,0) (2.12,0) (2.12,0.03)};
\addplot[gd, forget plot] coordinates {(-1.2,0.1) (-0.89,0.28) (-0.59,0.48) (-0.36,0.62) (-0.13,0.56) (0.18,0.36) (0.4,0.23) (0.71,0.21) (0.94,0.24) (1.24,0.16) (1.55,0.1) (1.85,0.05) (2.12,0.03)};
\addplot[yd, forget plot] coordinates {(-1.2,0.23) (-0.89,0.36) (-0.59,0.49) (-0.43,0.56) (-0.21,0.51) (0.02,0.46) (0.25,0.45) (0.48,0.39) (0.78,0.23) (1.09,0.1) (1.36,0.03) (1.51,0.01) (2.12,0)};
\ann{1.464}{-0.209}{1.536}{0.043}
\end{axis}
% Beth
\begin{axis}[botax, ncol, brow, at={(399.5pt,-593pt)}, anchor=north west, title={Beth}]
\addplot[yb] coordinates {(-1.2,0) (2.12,0)};
\addplot[gb] coordinates {(-1.19,0.06) (-1.19,0) (2.13,0)};
\addplot[gd] coordinates {(-1.19,0.06) (-0.89,0.23) (-0.58,0.5) (-0.35,0.7) (-0.2,0.74) (-0.01,0.63) (0.18,0.5) (0.33,0.32) (0.52,0.26) (0.79,0.29) (1.02,0.21) (1.25,0.1) (1.55,0.07) (1.86,0.02) (2.13,0)};
\addplot[yd] coordinates {(-1.2,0) (-0.77,0) (-0.66,0.32) (-0.54,1.03) (-0.43,1.83) (-0.37,2.12) (-0.27,1.61) (-0.16,1.03) (-0.05,0.63) (0.03,0.63) (0.09,0.69) (0.18,0.45) (0.26,0.1) (0.32,0) (2.12,0)};
\ann{1.422}{-0.294}{1.422}{-0.023}
\end{axis}
% ================= axis titles =================
\node[rotate=90, font=\fontsize{14}{16}\selectfont] at (12.5pt,-173pt) {F1z};
\node[font=\fontsize{14}{16}\selectfont] at (306pt,-347.5pt) {F2z};
\node[rotate=90, font=\fontsize{14}{16}\selectfont] at (12.5pt,-529pt) {Density};
\node[font=\fontsize{14}{16}\selectfont] at (307.5pt,-703.5pt) {Normalised Vowel Duration};
\node[anchor=east, inner sep=0pt, font=\fontsize{14}{16}\selectfont] at (271.5pt,-724.5pt) {Lexical Set};
\end{tikzpicture}
\end{document}
